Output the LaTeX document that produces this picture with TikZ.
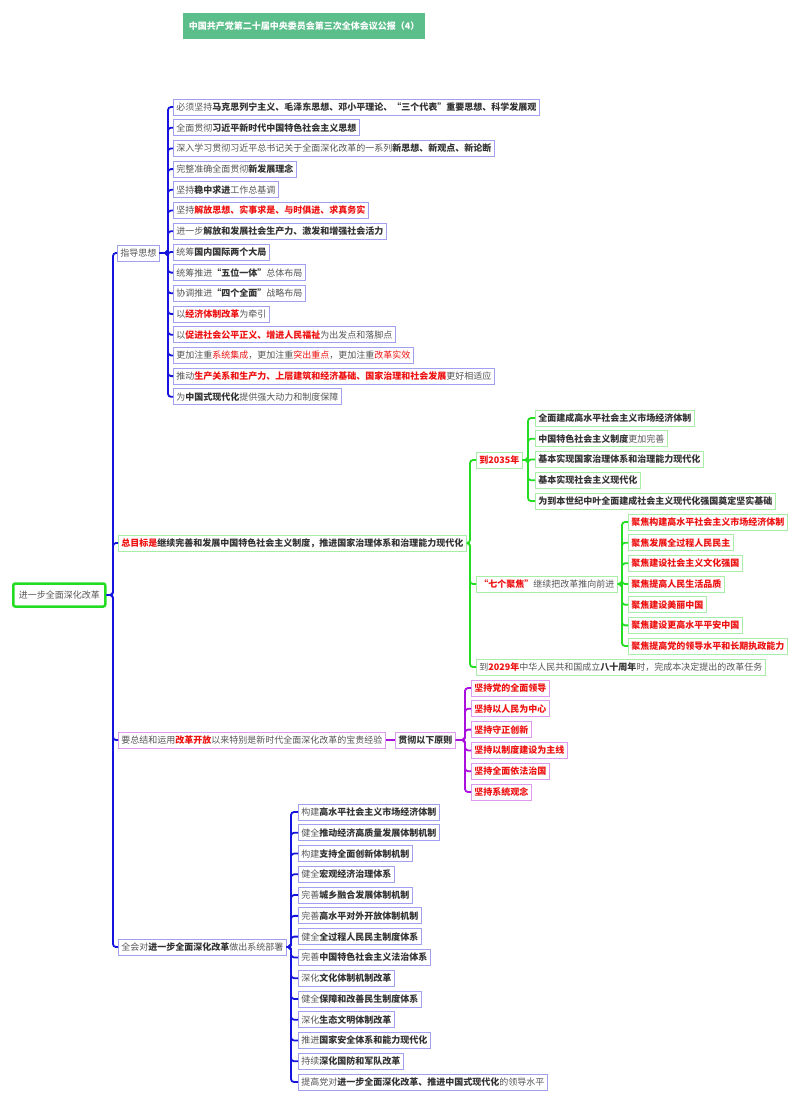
\documentclass[tikz,border=0pt]{standalone}
\usepackage{fontspec}
\setmainfont{Noto Sans CJK SC}
\definecolor{txt}{HTML}{555555}
\definecolor{dk}{HTML}{333333}
\definecolor{rd}{HTML}{EE1111}
\definecolor{bln}{HTML}{1414DD}
\definecolor{blb}{HTML}{A0A0EE}
\definecolor{grn}{HTML}{22DD22}
\definecolor{grb}{HTML}{A8EEA8}
\definecolor{pun}{HTML}{AA10DD}
\definecolor{pub}{HTML}{DD99EE}
\definecolor{ttl}{HTML}{5CBF8B}
\newcommand{\hb}[1]{{\bfseries\color{dk}#1}}
\newcommand{\hr}[1]{{\bfseries\color{rd}#1}}
\begin{document}
\begin{tikzpicture}[x=1pt,y=-1pt,
  every node/.style={font=\fontsize{9.0}{11}\selectfont, text=txt},
  box/.style={draw, line width=0.8pt, anchor=west, inner xsep=3pt, inner ysep=0pt, minimum height=16pt},
  bb/.style={box, draw=blb}, gb/.style={box, draw=grb}, pb/.style={box, draw=pub},
  cn/.style={line width=1.8pt, rounded corners=3pt},
  bc/.style={cn, draw=bln}, gc/.style={cn, draw=grn}, pc/.style={cn, draw=pun}]
\useasboundingbox (0,0) rectangle (800,1103);
\coordinate (xr) at (113,0);
\coordinate (xa) at (168,0);
\coordinate (xb) at (470,0);
\coordinate (xb1) at (528,0);
\coordinate (xb2) at (622,0);
\coordinate (xc) at (465,0);
\coordinate (xd) at (291,0);
\node[fill=ttl, text=white, font=\fontsize{9.0}{11}\selectfont\bfseries, minimum width=242pt, minimum height=26pt, anchor=west] (title) at (183,26) {中国共产党第二十届中央委员会第三次全体会议公报（4）};
\node[draw=grn, line width=2.5pt, rounded corners=2pt, anchor=west, minimum width=92pt, minimum height=23pt] (root) at (12,595) {进一步全面深化改革};
% level 1
\node[bb] (a) at (117,253) {指导思想};
\node[gb] (b) at (118,543) {\hr{总目标是}\hb{继续完善和发展中国特色社会主义制度，推进国家治理体系和治理能力现代化}};
\node[pb] (c) at (118,740) {要总结和运用\hr{改革开放}以来特别是新时代全面深化改革的宝贵经验};
\node[bb] (d) at (118,947) {全会对\hb{进一步全面深化改革}做出系统部署};
\foreach \n in {a,b,c,d} \draw[bc] (root.east) -- (root.east -| xr) |- (\n.west);
% A children
\foreach \t [count=\i] in {
 {必须坚持\hb{马克思列宁主义、毛泽东思想、邓小平理论、“三个代表”重要思想、科学发展观}},
 {全面贯彻\hb{习近平新时代中国特色社会主义思想}},
 {深入学习贯彻习近平总书记关于全面深化改革的一系列\hb{新思想、新观点、新论断}},
 {完整准确全面贯彻\hb{新发展理念}},
 {坚持\hb{稳中求进}工作总基调},
 {坚持\hr{解放思想、实事求是、与时俱进、求真务实}},
 {进一步\hb{解放和发展社会生产力、激发和增强社会活力}},
 {统筹\hb{国内国际两个大局}},
 {统筹推进\hb{“五位一体”}总体布局},
 {协调推进\hb{“四个全面”}战略布局},
 {以\hr{经济体制改革}为牵引},
 {以\hr{促进社会公平正义、增进人民福祉}为出发点和落脚点},
 {更加注重{\color{rd}系统集成}，更加注重{\color{rd}突出重点}，更加注重{\color{rd}改革实效}},
 {推动\hr{生产关系和生产力、上层建筑和经济基础、国家治理和社会发展}更好相适应},
 {为\hb{中国式现代化}提供强大动力和制度保障}} {
  \node[bb] (a\i) at (173,{107+(\i-1)*20.7}) {\t};
  \draw[bc] (a.east) -- (a.east -| xa) |- (a\i.west);
}
% B children
\node[gb] (b1) at (476,460) {\hr{到2035年}};
\node[gb] (b2) at (476,584) {\hr{“七个聚焦”}继续把改革推向前进};
\node[gb] (b3) at (476,667) {到\hr{2029年}中华人民共和国成立\hb{八十周年}时，完成本决定提出的改革任务};
\foreach \n in {b1,b2,b3} \draw[gc] (b.east) -- (b.east -| xb) |- (\n.west);
\foreach \t [count=\i] in {
 {\hb{全面建成高水平社会主义市场经济体制}},
 {\hb{中国特色社会主义制度}更加完善},
 {\hb{基本实现国家治理体系和治理能力现代化}},
 {\hb{基本实现社会主义现代化}},
 {\hb{为到本世纪中叶全面建成社会主义现代化强国奠定坚实基础}}} {
  \node[gb] (b1\i) at (535,{418+(\i-1)*20.75}) {\t};
  \draw[gc] (b1.east) -- (b1.east -| xb1) |- (b1\i.west);
}
\foreach \t [count=\i] in {
 {聚焦构建高水平社会主义市场经济体制},
 {聚焦发展全过程人民民主},
 {聚焦建设社会主义文化强国},
 {聚焦提高人民生活品质},
 {聚焦建设美丽中国},
 {聚焦建设更高水平平安中国},
 {聚焦提高党的领导水平和长期执政能力}} {
  \node[gb] (b2\i) at (628,{522+(\i-1)*20.67}) {\hr{\t}};
  \draw[gc] (b2.east) -- (b2.east -| xb2) |- (b2\i.west);
}
% C children
\node[pb] (c0) at (395,740) {\hb{贯彻以下原则}};
\draw[pc] (c.east) -- (c0.west);
\foreach \t [count=\i] in {
 {坚持党的全面领导},{坚持以人民为中心},{坚持守正创新},
 {坚持以制度建设为主线},{坚持全面依法治国},{坚持系统观念}} {
  \node[pb] (c\i) at (471,{688+(\i-1)*20.8}) {\hr{\t}};
  \draw[pc] (c0.east) -- (c0.east -| xc) |- (c\i.west);
}
% D children
\foreach \t [count=\i] in {
 {构建\hb{高水平社会主义市场经济体制}},
 {健全\hb{推动经济高质量发展体制机制}},
 {构建\hb{支持全面创新体制机制}},
 {健全\hb{宏观经济治理体系}},
 {完善\hb{城乡融合发展体制机制}},
 {完善\hb{高水平对外开放体制机制}},
 {健全\hb{全过程人民民主制度体系}},
 {完善\hb{中国特色社会主义法治体系}},
 {深化\hb{文化体制机制改革}},
 {健全\hb{保障和改善民生制度体系}},
 {深化\hb{生态文明体制改革}},
 {推进\hb{国家安全体系和能力现代化}},
 {持续\hb{深化国防和军队改革}},
 {提高党对\hb{进一步全面深化改革、推进中国式现代化}的领导水平}} {
  \node[bb] (d\i) at (298,{812+(\i-1)*20.77}) {\t};
  \draw[bc] (d.east) -- (d.east -| xd) |- (d\i.west);
}
\end{tikzpicture}
\end{document}
